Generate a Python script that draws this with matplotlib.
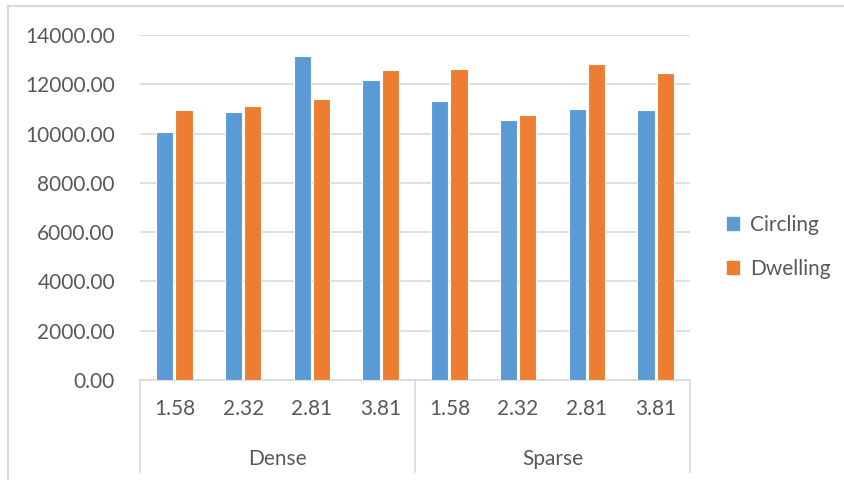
import matplotlib
matplotlib.use("Agg")
import matplotlib.pyplot as plt
import numpy as np
from matplotlib.lines import Line2D
from matplotlib.patches import Rectangle

groups = ["Dense", "Sparse"]
levels = ["1.58", "2.32", "2.81", "3.81"]
circling = [10080, 10860, 13150, 12160, 11320, 10540, 11010, 10960]
dwelling = [10960, 11120, 11390, 12580, 12620, 10740, 12840, 12470]

blue = "#5b9bd5"
orange = "#ed7d31"
grey_txt = "#595959"
grey_line = "#d9d9d9"

plt.rcParams["font.family"] = ["Lato", "DejaVu Sans"]

fig = plt.figure(figsize=(8.44, 4.8), dpi=100)
ax = fig.add_axes([140 / 844, 100 / 480, 550 / 844, 345 / 480])

x = np.arange(len(circling))
w = 0.25
ax.bar(x - 0.14, circling, w, color=blue, edgecolor="white", linewidth=0.8, label="Circling", zorder=3)
ax.bar(x + 0.14, dwelling, w, color=orange, edgecolor="white", linewidth=0.8, label="Dwelling", zorder=3)

ax.set_xlim(-0.5, len(x) - 0.5)
ax.set_ylim(0, 14000)
ax.set_yticks(np.arange(0, 14001, 2000))
ax.set_yticklabels([f"{v:.2f}" for v in np.arange(0, 14001, 2000)], fontsize=15, color=grey_txt)
ax.tick_params(axis="y", length=0, pad=18)
ax.set_xticks([])
ax.yaxis.grid(True, color=grey_line, linewidth=1.2, zorder=0)
for s in ["top", "right", "left"]:
    ax.spines[s].set_visible(False)
ax.spines["bottom"].set_color(grey_line)
ax.spines["bottom"].set_linewidth(1.2)

# two-level category axis
trans = ax.get_xaxis_transform()
for i in x:
    ax.text(i, -0.085, levels[i % len(levels)], transform=trans, ha="center", va="center",
            fontsize=15, color=grey_txt)
for g, name in enumerate(groups):
    ax.text(g * 4 + 1.5, -0.23, name, transform=trans, ha="center", va="center",
            fontsize=15, color=grey_txt)
for xb in [-0.5, 3.5, 7.5]:
    ax.add_line(Line2D([xb, xb], [0, -0.267], transform=trans, color=grey_line,
                       linewidth=1.2, clip_on=False))

# legend
fig.legend(handles=[Rectangle((0, 0), 1, 1, color=blue), Rectangle((0, 0), 1, 1, color=orange)],
           labels=["Circling", "Dwelling"], loc="center left", bbox_to_anchor=(708 / 844, 1 - 247 / 480),
           frameon=False, fontsize=15, labelcolor=grey_txt, handlelength=0.6, handleheight=0.6,
           handletextpad=0.5, labelspacing=1.15)

# chart border (only left and top visible)
fig.add_artist(Line2D([8 / 844, 8 / 844], [0, 1 - 6 / 480], transform=fig.transFigure,
                      color=grey_line, linewidth=1.5))
fig.add_artist(Line2D([8 / 844, 1], [1 - 6 / 480, 1 - 6 / 480], transform=fig.transFigure,
                      color=grey_line, linewidth=1.5))

fig.savefig("out.png", dpi=100)
